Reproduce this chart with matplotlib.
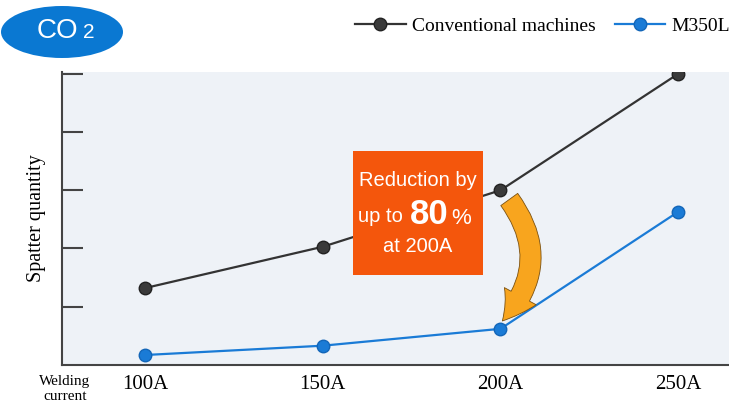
import numpy as np
import matplotlib.pyplot as plt
from matplotlib.patches import Ellipse, FancyArrowPatch, Rectangle

currents = [100, 150, 200, 250]
tick_labels = ['100A', '150A', '200A', '250A']
conventional = [1.32, 2.03, 3.0, 5.0]
m350l = [0.17, 0.33, 0.62, 2.63]

serif = 'Liberation Serif'
sans = 'Liberation Sans'
W, H = 729, 405  # pixel size, used to place the overlay items


def fx(px):
    return px / W


def fy(py):
    return 1 - py / H


fig = plt.figure(figsize=(7.29, 4.05), dpi=100)
ax = fig.add_axes([0.085, 0.099, 0.915, 0.723])
ax.set_facecolor('#eef2f7')

ax.plot(currents, conventional, color='#333333', lw=1.6, marker='o', ms=9,
        markerfacecolor='#3a3a3a', markeredgecolor='#222222', zorder=4,
        label='Conventional machines')
ax.plot(currents, m350l, color='#1a7bd6', lw=1.6, marker='o', ms=9,
        markerfacecolor='#1a7bd6', markeredgecolor='#1366b8', zorder=4,
        label='M350L')

ax.set_xlim(76.6, 264.3)
ax.set_ylim(0, 5.03)
ax.set_xticks(currents)
ax.set_xticklabels(tick_labels, fontfamily=serif, fontsize=15)
ax.set_yticks([1, 2, 3, 4, 5])
ax.set_yticklabels([])
ax.tick_params(axis='y', direction='in', length=15, width=1.5, color='#444444')
ax.tick_params(axis='x', length=0, pad=7)
for s in ['top', 'right']:
    ax.spines[s].set_visible(False)
for s in ['left', 'bottom']:
    ax.spines[s].set_color('#444444')
    ax.spines[s].set_linewidth(1.5)

ax.set_ylabel('Spatter quantity', fontfamily=serif, fontsize=14.5, labelpad=8)
fig.text(fx(65), fy(389), 'Welding\ncurrent', fontfamily=serif, fontsize=11,
         ha='center', va='center', linespacing=1.1)

# callout box
box = Rectangle((fx(353), fy(275)), fx(130), 124 / H, transform=fig.transFigure,
                facecolor='#f4560c', edgecolor='none', zorder=5)
fig.patches.append(box)
fig.text(fx(418), fy(181), 'Reduction by', color='white', fontfamily=sans,
         fontsize=14.5, ha='center', va='center', zorder=6)
fig.text(fx(358), fy(216), 'up to', color='white', fontfamily=sans,
         fontsize=14.5, ha='left', va='center', zorder=6)
fig.text(fx(410), fy(215), '80', color='white', fontfamily=sans, fontsize=25,
         fontweight='bold', ha='left', va='center', zorder=6)
fig.text(fx(451), fy(218), '%', color='white', fontfamily=sans, fontsize=16,
         ha='left', va='center', zorder=6)
fig.text(fx(418), fy(246), 'at 200A', color='white', fontfamily=sans,
         fontsize=14.5, ha='center', va='center', zorder=6)

# curved arrow
arrow = FancyArrowPatch((202, 2.88), (200.0, 0.72),
                        connectionstyle='arc3,rad=-0.42',
                        arrowstyle='simple,head_width=26,head_length=22,tail_width=15',
                        facecolor='#f8a51e', edgecolor='#7a5010', lw=0.6,
                        zorder=6)
ax.add_patch(arrow)

# CO2 badge
badge = Ellipse((fx(62), fy(32)), fx(122), 52 / H, transform=fig.transFigure,
                facecolor='#0a78d2', edgecolor='none')
fig.patches.append(badge)
fig.text(fx(37), fy(38), 'CO', color='white', fontfamily=sans,
         fontsize=20, ha='left', va='baseline')
fig.text(fx(83), fy(38), '2', color='white', fontfamily=sans,
         fontsize=15, ha='left', va='baseline')

leg = fig.legend(loc='upper right', bbox_to_anchor=(1.025, 1.0), ncol=2,
                 frameon=False, prop={'family': serif, 'size': 14},
                 handlelength=2.6, columnspacing=1.0, handletextpad=0.3)

fig.savefig('out.png', dpi=100, facecolor='white')
